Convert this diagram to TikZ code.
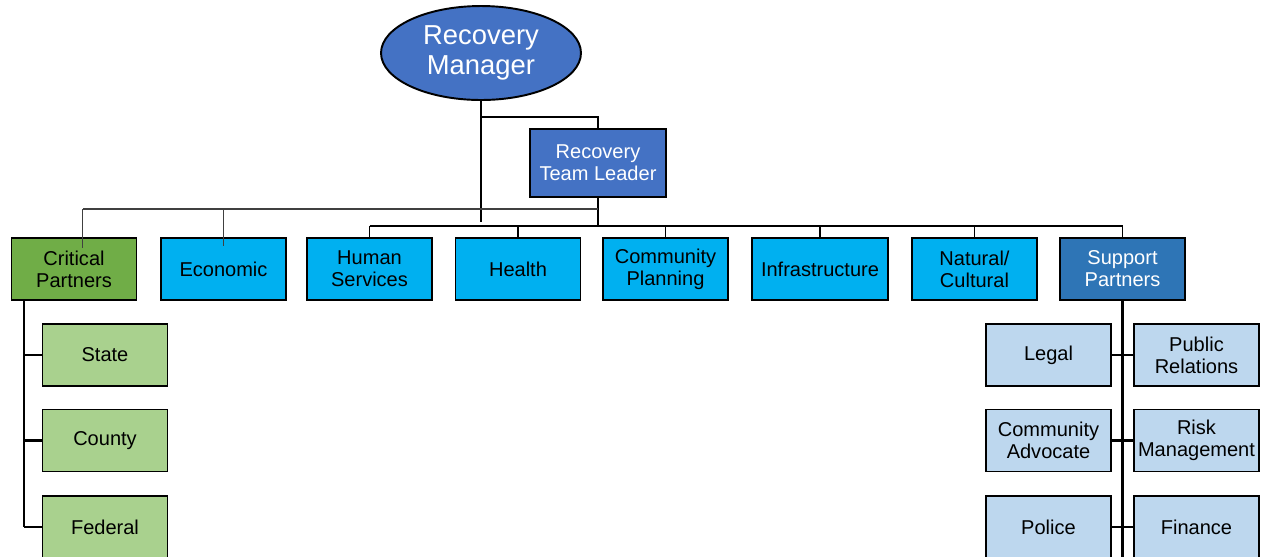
\documentclass[tikz,border=0pt]{standalone}
\usepackage{fontspec}
\setmainfont{Liberation Sans}
\usetikzlibrary{shapes.geometric}
\definecolor{mgrblue}{HTML}{4472C4}
\definecolor{rsfblue}{HTML}{00B0F0}
\definecolor{suppblue}{HTML}{2E75B6}
\definecolor{critgreen}{HTML}{70AD47}
\definecolor{litegreen}{HTML}{A9D18E}
\definecolor{liteblue}{HTML}{BDD7EE}
\definecolor{linegray}{HTML}{404040}
\tikzset{
	box/.style={draw=black,line width=1.1pt,minimum width=2.5cm,minimum height=1.24cm,
		inner sep=1pt,align=center,font=\fontsize{11.4}{12.5}\selectfont},
	rsf/.style={box,fill=rsfblue},
	critbox/.style={box,fill=litegreen},
	suppbox/.style={box,fill=liteblue},
	thin/.style={line width=0.6pt},
	thick/.style={line width=1.6pt}
}
\begin{document}
\begin{tikzpicture}[x=0.02cm,y=-0.02cm]
	\clip (0,0) rectangle (1262,556);
	%上层
	\node[ellipse,draw=black,line width=1.1pt,fill=mgrblue,text=white,inner sep=0pt,
	minimum width=4cm,minimum height=1.88cm,align=center,
	font=\fontsize{15.6}{17}\selectfont] (mgr) at (481,53) {Recovery\\Manager};
	\node[box,fill=mgrblue,text=white,minimum width=2.72cm,minimum height=1.36cm]
	(lead) at (598,163) {Recovery\\Team Leader};
	%第二层
	\node[box,fill=critgreen] (crit) at (74,269) {Critical\\Partners};
	\node[rsf] (econ) at (223.5,269) {Economic};
	\node[rsf] (hum) at (369.5,269) {Human\\Services};
	\node[rsf] (health) at (518,269) {Health};
	\node[rsf] (comm) at (665.5,269) {Community\\Planning};
	\node[rsf,minimum width=2.72cm] (infra) at (820,269) {Infrastructure};
	\node[rsf] (nat) at (974.5,269) {Natural/\\Cultural};
	\node[box,fill=suppblue,text=white] (supp) at (1122.5,269) {Support\\Partners};
	%伙伴
	\node[critbox] (state) at (105,355) {State};
	\node[critbox] (county) at (105,440.5) {County};
	\node[critbox] (fed) at (105,527) {Federal};
	\node[suppbox] (legal) at (1048.5,355) {Legal};
	\node[suppbox] (advoc) at (1048.5,440.5) {Community\\Advocate};
	\node[suppbox] (police) at (1048.5,527) {Police};
	\node[suppbox] (pubrel) at (1196.5,355) {Public\\Relations};
	\node[suppbox] (risk) at (1196.5,440.5) {Risk\\Management};
	\node[suppbox] (fin) at (1196.5,527) {Finance};
	%线
	\coordinate (mgrjoin) at (481,117);
	\coordinate (mgrend) at (481,222);
	\coordinate (bus) at (598,226);
	\coordinate (graybus) at (598,209);
	\draw[thick] (mgr.south) -- (mgrjoin);
	\draw[thin] (mgrjoin) -| (lead.north);
	\draw[thin] (mgrjoin) -- (mgrend);
	\draw[thick] (lead.south) -- (bus);
	\draw[thin,linegray,line width=0.8pt] ([xshift=5]crit.north |- graybus) -- (graybus);
	\draw[thin,linegray,line width=0.8pt] ([xshift=5]crit.north |- graybus) -- ([xshift=5,yshift=-6]crit.north);
	\draw[thin,linegray,line width=0.8pt] (econ.north |- graybus) -- ([yshift=-5]econ.north);
	\draw[line width=1.1pt] (hum.north |- bus) -- (supp.north |- bus);
	\foreach \n in {hum,health,comm,infra,nat,supp}
		\draw[thin] (\n.north |- bus) -- (\n.north);
	\coordinate (crittrunk) at (24,300);
	\draw[thick] (crittrunk) -- (crittrunk |- fed.west);
	\foreach \n in {state,county,fed}
		\draw[thick] (crittrunk |- \n.west) -- (\n.west);
	\draw[thick] (supp.south) -- (supp.south |- 0,560);
	\draw[thick] (legal.east) -- (pubrel.west);
	\draw[thick] (advoc.east) -- (risk.west);
	\draw[thick] (police.east) -- (fin.west);
\end{tikzpicture}
\end{document}
